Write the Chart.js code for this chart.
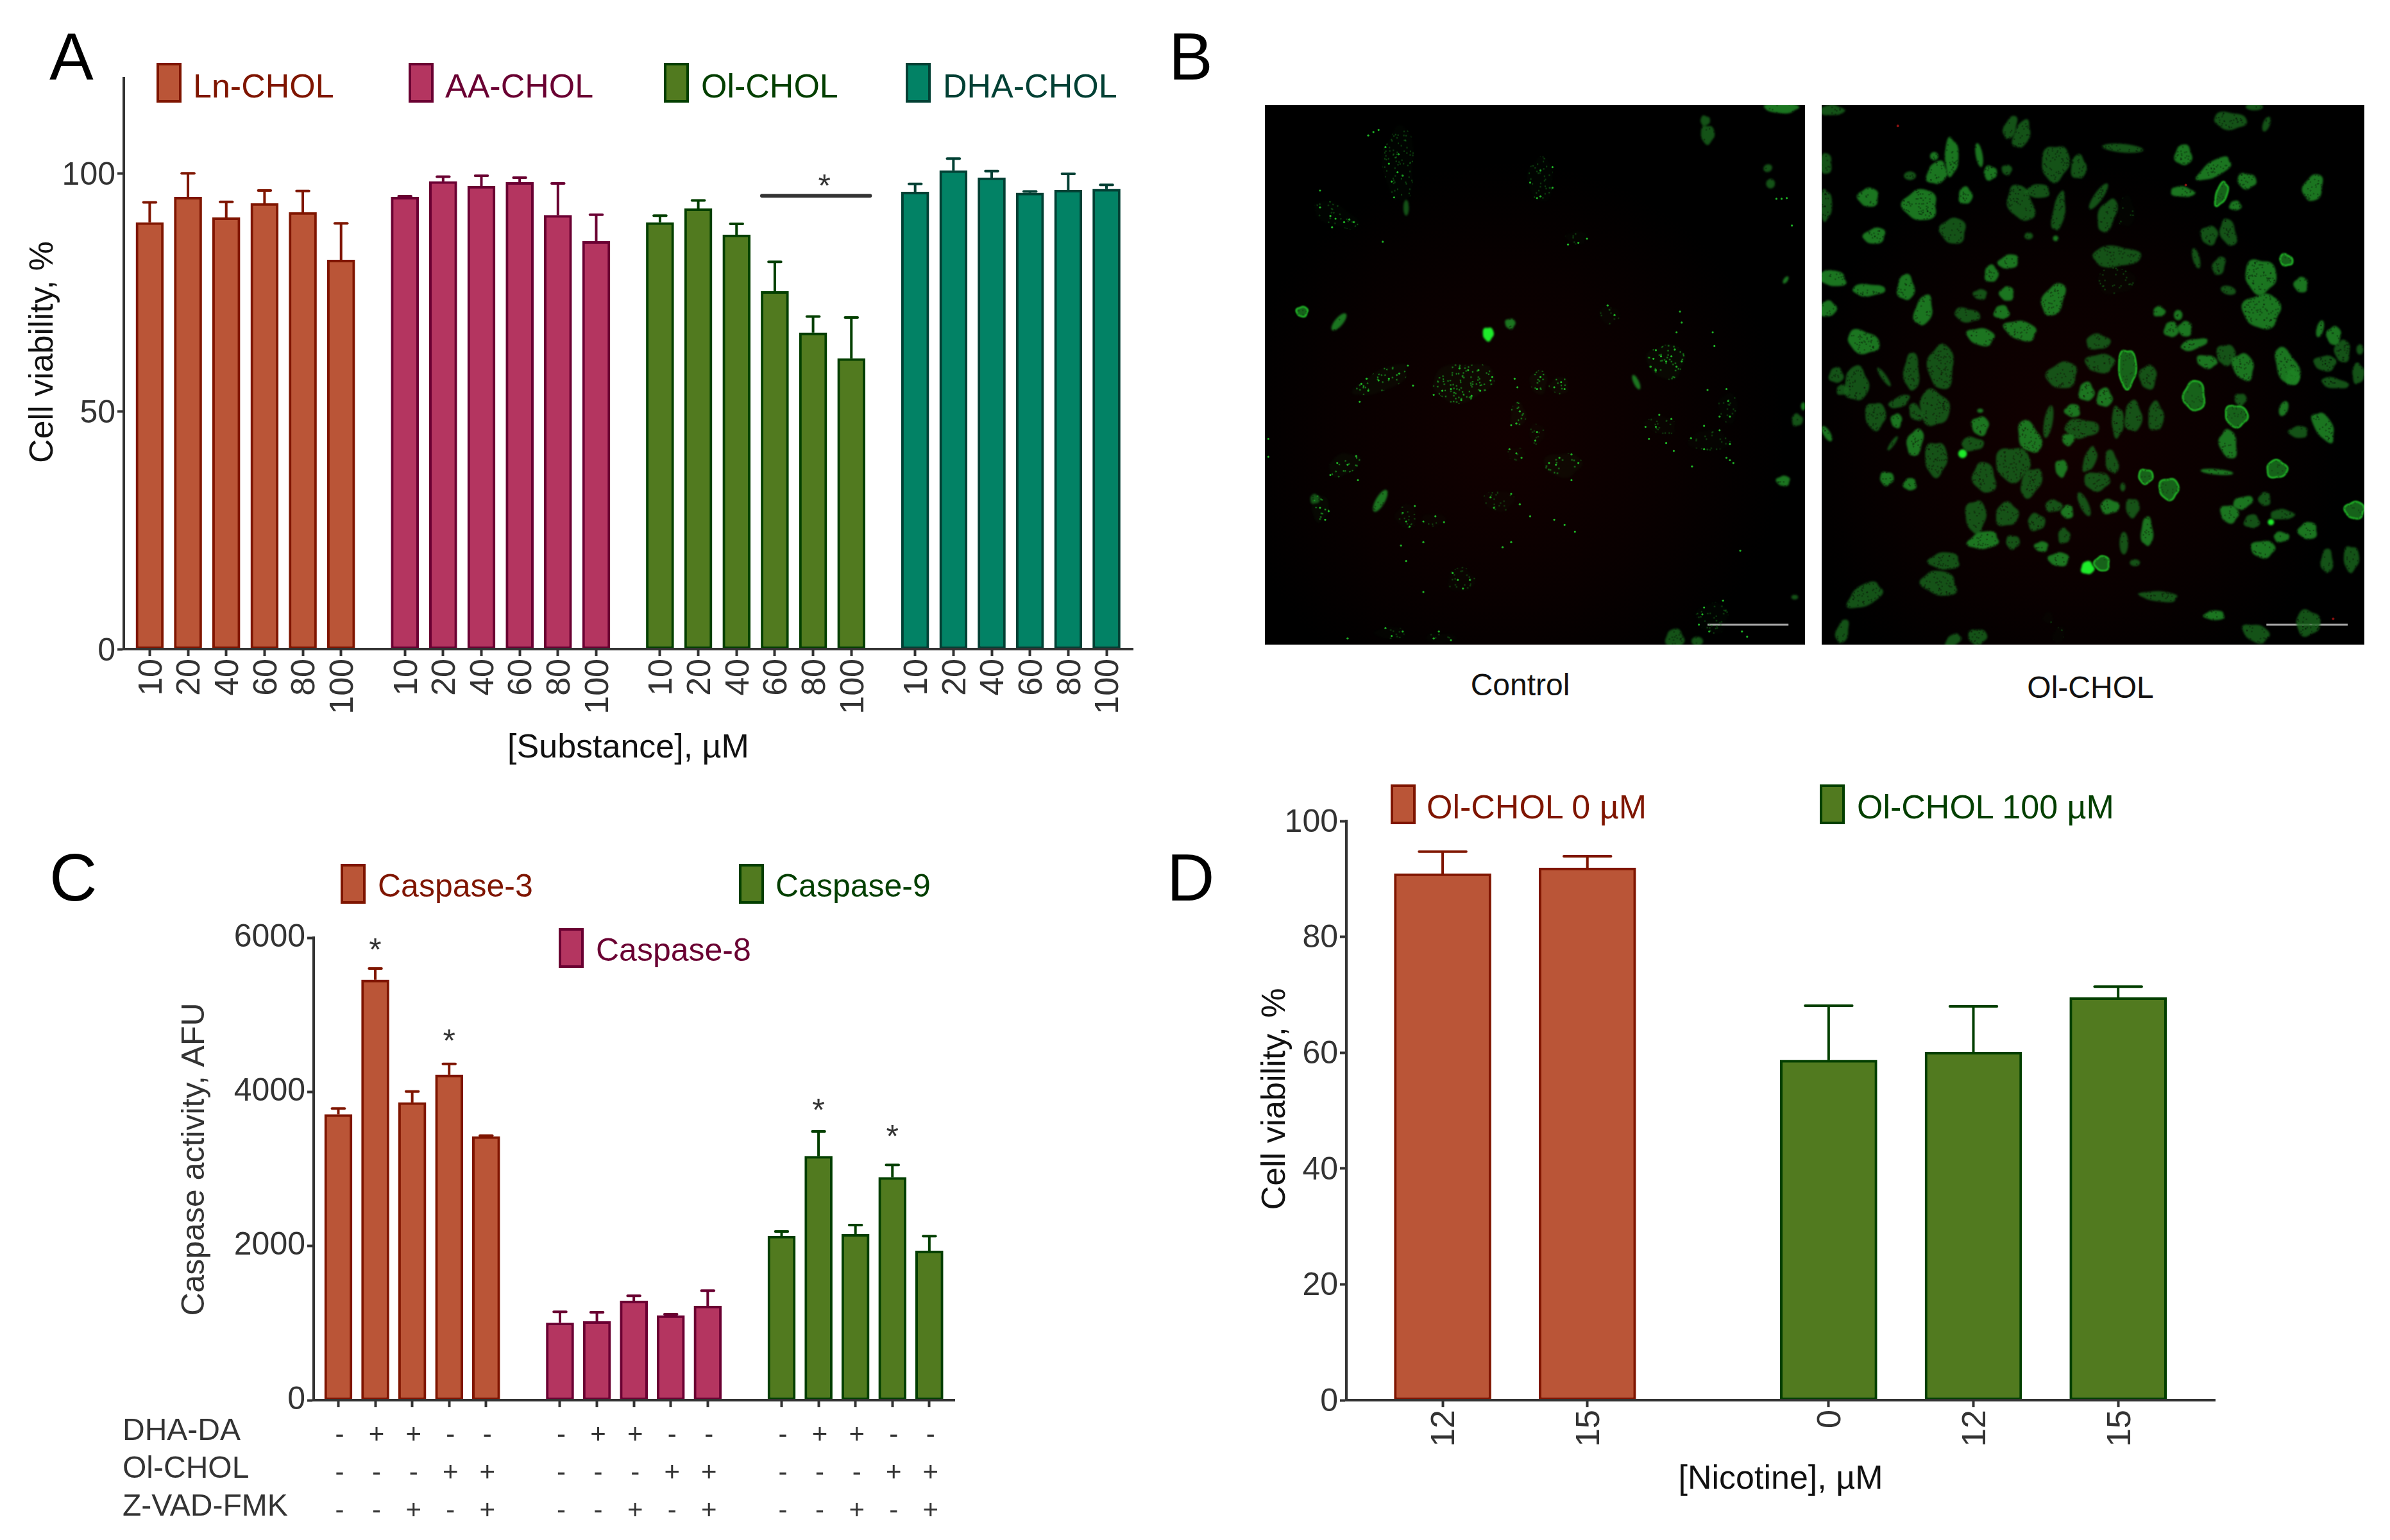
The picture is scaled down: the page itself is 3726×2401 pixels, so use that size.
<!DOCTYPE html>
<html><head><meta charset="utf-8">
<style>
html,body{margin:0;padding:0;background:#fff;width:3726px;height:2401px;overflow:hidden;font-family:"Liberation Sans",Arial,sans-serif}
canvas{position:absolute;display:block}
.t{position:absolute;white-space:nowrap;line-height:1;transform:translateY(-50%)}
.s{position:absolute;box-sizing:border-box;border:4px solid}
</style>
<script src="https://cdn.jsdelivr.net/npm/chart.js@4/dist/chart.umd.min.js"></script>
</head><body>
<script>
// ---------- Panel A ----------
const concentrations = ['10','20','40','60','80','100'];
const lnChol  = [89.7,95.0,90.7,93.7,91.8,81.8];
const lnCholE = [93.9,100.0,94.0,96.4,96.3,89.5];
const aaChol  = [95.0,98.3,97.3,98.1,91.2,85.7];
const aaCholE = [95.2,99.3,99.5,99.1,97.9,91.3];
const olChol  = [89.7,92.6,87.1,75.2,66.5,61.1];
const olCholE = [91.1,94.3,89.4,81.4,69.9,69.7];
const dhaChol  = [96.1,100.6,99.1,95.9,96.5,96.7];
const dhaCholE = [97.8,103.1,100.5,96.2,99.9,97.6];
// ---------- Panel C ----------
const casp3  = [3707,5453,3862,4220,3421];
const casp3E = [3785,5600,4005,4363,3433];
const casp8  = [1003,1021,1289,1098,1223];
const casp8E = [1146,1140,1354,1116,1420];
const casp9  = [2129,3165,2153,2891,1938];
const casp9E = [2188,3487,2272,3052,2129];
const dhaDa = ['-','+','+','-','-'];
const olRow = ['-','-','-','+','+'];
const zvad  = ['-','-','+','-','+'];
// ---------- Panel D ----------
const nicotine0 = ['12','15'];
const nicotine100 = ['0','12','15'];
const ol0   = [90.9,91.9];
const ol0E  = [94.7,93.9];
const ol100 = [58.7,60.1,69.5];
const ol100E= [68.1,68.0,71.4];
const controlBlobs = [[108,600,32,28,0,2],[215,630,24,62,40,1],[648,665,32,40,0,3],[712,635,30,30,0,1],[1500,8,100,30,0,1],[1278,45,28,30,0,0],[1285,85,40,55,0,0],[1078,805,16,46,-25,1],[1190,1550,54,54,0,0],[1255,1558,34,26,0,0],[335,1150,26,72,30,1],[1505,1092,40,30,0,1],[1545,915,32,36,0,0],[1563,875,14,24,0,1],[145,1145,28,28,0,0],[1538,1430,20,14,0,0],[1512,508,12,24,35,1],[410,298,16,46,0,0],[1468,228,26,28,0,0],[1460,183,26,22,-25,0],
[800,215,75,130,0,4],[390,170,90,220,0,4],[205,320,140,60,25,4],[1165,745,110,100,0,5],[340,800,170,60,-25,5],[575,805,180,110,-10,5],[795,805,50,70,0,5],[855,815,55,50,0,5],[735,900,45,70,0,5],[230,1045,95,60,-25,5],[865,1045,110,70,0,5],[160,1170,50,80,0,5],[410,1195,60,70,0,4],[490,1205,70,35,0,4],[680,1150,90,60,0,4],[1345,880,55,90,0,4],[1150,930,90,50,10,4],[1290,975,120,60,0,4],[570,1380,80,70,0,4],[365,1535,90,35,0,4],[510,1550,90,30,0,4],[1300,1490,90,90,0,4],[905,385,60,40,0,4],[1000,610,60,50,0,4],[790,955,45,60,0,4],[730,1015,50,40,0,4]];
const controlSpecks = [[315,78],[300,88],[330,72],[350,122],[388,143],[360,170],[385,195],[400,205],[368,222],[375,268],[160,248],[160,297],[190,322],[205,330],[230,340],[245,332],[258,340],[195,355],[342,397],[800,190],[770,225],[835,180],[800,265],[835,240],[790,270],[935,388],[880,405],[910,400],[1485,272],[1500,272],[1515,270],[1530,350],[995,582],[1015,610],[1205,600],[1210,632],[1195,660],[1300,660],[1305,700],[1135,712],[1128,737],[1190,710],[1165,745],[1135,770],[1195,760],[1150,730],[1180,730],[1120,760],[1210,745],[1285,828],[1345,860],[1350,905],[1320,905],[1340,825],[1145,900],[1180,912],[1105,935],[1115,970],[1135,935],[1165,982],[1187,1005],[1240,1050],[1237,968],[1275,1000],[1275,932],[1320,945],[1350,985],[1350,1032],[1340,1025],[1360,1040],[415,757],[390,780],[360,795],[330,800],[295,795],[280,810],[300,830],[275,862],[430,815],[490,842],[515,830],[540,825],[570,857],[600,845],[625,830],[655,800],[660,790],[590,770],[565,765],[620,770],[733,820],[725,795],[800,790],[790,825],[860,805],[840,820],[870,825],[740,890],[730,925],[715,930],[790,950],[785,975],[730,1012],[745,1025],[710,1000],[825,1040],[845,1045],[855,1025],[890,1015],[910,1040],[890,1090],[265,1020],[240,1045],[210,1040],[190,1075],[270,1090],[160,1170],[185,1180],[175,1205],[400,1185],[410,1210],[420,1225],[435,1165],[460,1210],[495,1195],[520,1212],[655,1140],[665,1170],[715,1130],[740,1160],[770,1195],[840,1205],[870,1220],[900,1240],[460,1270],[395,1280],[410,1325],[690,1285],[715,1270],[560,1380],[595,1380],[575,1405],[545,1360],[460,1415],[350,1520],[368,1543],[400,1530],[490,1550],[540,1555],[505,1530],[240,1550],[1275,1460],[1270,1480],[1290,1530],[1385,1530],[1400,1545],[1330,1440],[1260,1510],[10,970],[10,1022],[1380,1295]];
const olBlobs = [[30,15,70,30,0,0],[545,65,35,70,20,0],[578,85,45,85,20,0],[375,150,40,110,0,1],[325,148,24,24,0,1],[333,197,55,70,30,1],[455,145,20,70,-10,1],[487,197,38,42,0,1],[535,188,30,30,0,0],[675,168,80,105,10,0],[742,180,45,70,0,0],[870,125,120,25,5,0],[1045,145,50,60,0,1],[1180,45,95,50,5,0],[1250,5,50,20,0,0],[1285,55,20,45,20,0],[1135,185,110,45,-30,1],[1228,220,55,45,10,1],[1155,258,30,70,20,2],[1195,292,35,28,0,1],[1420,240,55,80,20,1],[1042,252,70,30,5,1],[255,205,35,25,0,0],[135,268,60,55,0,1],[415,263,40,50,0,1],[285,290,100,90,0,1],[380,365,75,75,20,0],[153,380,65,45,-15,1],[10,170,40,60,0,0],[12,290,35,90,0,0],[575,285,70,110,-25,0],[625,250,70,40,0,0],[685,310,35,115,10,0],[676,387,16,16,0,1],[598,380,25,20,0,0],[800,265,25,90,35,0],[825,320,50,100,20,0],[880,310,50,90,0,4],[1120,378,50,55,0,0],[1175,370,45,80,-15,0],[1082,445,20,60,-15,0],[1148,467,35,55,20,0],[1342,450,38,30,30,2],[1268,497,90,100,-10,1],[1385,522,40,45,0,1],[1175,538,45,25,15,0],[1272,598,110,100,0,1],[850,440,140,60,0,0],[850,510,110,80,0,4],[540,455,60,40,-15,1],[490,490,40,50,0,1],[30,503,85,45,10,1],[135,537,95,35,0,1],[243,530,50,75,0,1],[18,592,50,45,-30,1],[294,597,50,90,15,1],[535,548,42,42,0,1],[670,565,60,100,25,1],[420,610,75,40,10,0],[458,550,40,30,0,0],[520,602,45,40,0,1],[460,673,80,50,10,1],[575,655,95,55,15,1],[120,688,95,65,20,1],[975,600,35,30,0,1],[1030,610,25,30,0,1],[1010,652,42,45,0,1],[1050,650,40,45,0,1],[1075,695,80,30,-15,1],[1113,745,60,38,10,1],[1168,725,55,60,0,0],[1218,760,60,80,-20,1],[1345,760,60,115,-25,1],[1360,790,40,50,0,1],[1440,650,20,50,15,1],[1480,670,42,55,0,1],[1505,715,45,65,0,0],[1455,750,65,45,0,0],[1482,808,80,30,10,0],[1555,710,20,30,0,0],[1550,780,35,60,0,0],[1210,855,35,35,0,0],[1077,845,60,85,0,2],[1198,903,65,60,30,2],[1335,882,25,45,20,1],[1175,985,50,85,-10,1],[1450,935,50,95,-30,1],[1378,950,55,35,0,0],[1142,1066,95,16,5,1],[1315,1058,58,50,0,2],[1217,1155,60,35,-20,1],[1178,1188,55,50,40,1],[1243,1210,45,40,0,0],[1280,1145,35,40,0,0],[1330,1190,70,30,0,0],[1298,1212,18,18,0,3],[1328,1255,45,30,0,1],[1405,1237,55,50,0,1],[1275,1290,70,50,0,1],[1540,1177,55,48,0,2],[1460,1325,35,70,0,0],[1530,1318,45,75,0,0],[798,688,70,45,0,0],[883,765,50,110,0,2],[805,750,85,55,0,0],[695,785,90,75,-20,0],[943,790,50,70,0,0],[765,833,45,55,0,1],[817,850,45,55,0,1],[725,888,45,38,0,1],[655,920,25,95,10,0],[600,965,60,100,-25,1],[750,940,100,55,0,0],[712,972,35,35,0,1],[855,920,35,90,0,0],[900,905,50,90,0,0],[965,905,45,85,0,0],[260,775,45,110,0,0],[345,760,75,130,0,0],[42,785,42,45,0,0],[100,810,70,100,0,0],[60,828,35,30,0,0],[180,790,15,65,-35,0],[225,862,65,30,-25,0],[325,880,85,105,-15,0],[272,893,35,55,-30,0],[155,903,60,80,0,0],[216,917,32,42,0,1],[458,932,50,55,0,1],[458,888,18,12,0,1],[270,980,45,80,15,1],[330,1028,65,100,0,0],[205,983,12,50,35,0],[15,955,20,50,-30,1],[435,985,65,40,0,0],[407,1013,25,25,0,3],[188,1085,40,40,0,1],[255,1102,38,36,0,1],[552,1043,100,100,0,0],[470,1083,65,90,-15,0],[605,1097,55,90,25,0],[692,1055,35,50,0,1],[775,1030,35,75,20,0],[838,1037,35,70,-15,0],[795,1093,75,55,0,0],[936,1079,40,40,0,2],[1003,1115,55,60,0,2],[870,1110,15,25,0,0],[445,1195,60,95,0,0],[535,1190,65,70,30,0],[620,1212,50,50,0,0],[670,1165,50,35,0,0],[710,1182,35,40,0,1],[758,1160,25,75,-25,0],[832,1167,55,42,0,1],[898,1170,40,55,0,0],[940,1240,35,85,0,1],[468,1265,90,50,-10,1],[552,1270,40,40,0,0],[635,1283,40,30,0,1],[700,1252,35,45,0,0],[685,1320,60,40,0,1],[873,1273,25,65,0,0],[768,1345,38,38,0,3],[810,1332,42,42,0,2],[905,1330,30,20,0,0],[355,1325,90,50,0,0],[340,1390,105,70,15,0],[125,1425,110,60,-30,0],[975,1428,110,30,5,0],[1135,1483,60,28,0,1],[1255,1535,80,50,20,0],[1405,1505,70,75,0,0],[60,1530,35,70,15,0],[380,1555,50,30,-30,0],[450,1545,55,45,0,0],[655,1490,30,35,0,4],[685,1540,30,50,20,4]];
const olRedSpecks = [[220,60],[1052,232],[1478,1493]];
const controlScaleBar = [[1285,1510],[1520,1510]];
const olScaleBar = [[1285,1510],[1520,1510]];

// ---------- styling ----------
const FONT = '"Liberation Sans", Arial, sans-serif';
const AXIS = '#333333';
const C = {
  red:{fill:'#BA5537',line:'#7F1500'}, plum:{fill:'#B43560',line:'#6A0032'},
  green:{fill:'#517A1F',line:'#033F00'}, teal:{fill:'#028265',line:'#024034'}
};

const errorBars = { id:'errorBars', afterDatasetsDraw(chart){
  const ctx = chart.ctx, y = chart.scales.y;
  chart.data.datasets.forEach((ds,i)=>{
    if(!ds.err) return;
    const cap = ds.maxBarThickness/2 + 2;
    chart.getDatasetMeta(i).data.forEach((bar,k)=>{
      const t = y.getPixelForValue(ds.err[k]);
      ctx.save(); ctx.strokeStyle = ds.borderColor; ctx.lineWidth = 4;
      ctx.beginPath(); ctx.moveTo(bar.x,bar.y); ctx.lineTo(bar.x,t); ctx.stroke();
      ctx.lineCap='round'; ctx.beginPath(); ctx.moveTo(bar.x-cap/2+2,t); ctx.lineTo(bar.x+cap/2-2,t); ctx.stroke();
      ctx.restore();
    });
  });
}};
const marks = { id:'marks', afterDatasetsDraw(chart,_a,opts){
  const ctx = chart.ctx, {x,y} = chart.scales;
  ctx.save(); ctx.fillStyle = AXIS; ctx.strokeStyle = AXIS;
  (opts.lines||[]).forEach(l=>{ ctx.lineWidth=6; ctx.lineCap='round';
    ctx.beginPath(); ctx.moveTo(x.getPixelForValue(l[0]),y.getPixelForValue(l[2])); ctx.lineTo(x.getPixelForValue(l[1]),y.getPixelForValue(l[2])); ctx.stroke(); });
  ctx.font = '50px '+FONT; ctx.textAlign='center'; ctx.textBaseline='alphabetic';
  (opts.stars||[]).forEach(s=>ctx.fillText('*',x.getPixelForValue(s[0]),y.getPixelForValue(s[1])+26));
  ctx.restore();
}};

function place(id,l,t,w,h){ const c=document.createElement('canvas'); c.id=id; c.width=w; c.height=h;
  c.style.left=l+'px'; c.style.top=t+'px'; c.style.width=w+'px'; c.style.height=h+'px'; document.body.appendChild(c); return c; }
function text(str,x,y,size,color,center){ const s=document.createElement('div'); s.className='t'; s.textContent=str;
  s.style.cssText+=`left:${x}px;top:${y}px;font-size:${size}px;color:${color};`+(center?'transform:translate(-50%,-50%);':''); document.body.appendChild(s); }
function legend(str,x,y,col,tx,ty,size){ const b=document.createElement('div'); b.className='s';
  b.style.cssText=`left:${x}px;top:${y}px;width:39px;height:62px;background:${col.fill};border-color:${col.line}`; document.body.appendChild(b);
  text(str,tx,ty,size,col.line); }
function bars(points,err,col,thick){ return {data:points,err,backgroundColor:col.fill,borderColor:col.line,borderWidth:4,borderSkipped:false,
  grouped:false,barPercentage:1,categoryPercentage:1,maxBarThickness:thick}; }
function tweakY(scale,titleDy,labelDy){ if(scale._wrapped) return; scale._wrapped=true; const o=scale.drawTitle;
  scale.drawTitle=function(){ const c=this.ctx; c.save(); c.translate(0,titleDy); o.call(this); c.restore(); };
  const li=scale._computeLabelItems;
  scale._computeLabelItems=function(ca){ const items=li.call(this,ca); items.forEach(it=>{it.options.translation[1]+=labelDy;}); return items; }; }
function tweakX(scale,labelDx){ if(scale._wrapped) return; scale._wrapped=true; const li=scale._computeLabelItems;
  scale._computeLabelItems=function(ca){ const items=li.call(this,ca); items.forEach(it=>{it.options.translation[0]+=labelDx;}); return items; }; }

function barChart(cv,cfg){
  return new Chart(cv,{type:'bar',plugins:[errorBars,marks],
    data:{datasets:cfg.datasets},
    options:{responsive:false,animation:false,devicePixelRatio:1,
      layout:{autoPadding:false,padding:{top:cfg.padTop,right:cfg.padRight,left:0,bottom:0}},
      plugins:{legend:{display:false},tooltip:{enabled:false},marks:{stars:cfg.stars||[],lines:cfg.lines||[]}},
      scales:{
        x:{type:'linear',min:cfg.xMin,max:cfg.xMax,offset:false,
          border:{color:AXIS,width:4,z:1},
          grid:{display:true,offset:false,drawOnChartArea:false,drawTicks:true,tickLength:cfg.tickLen||11,tickWidth:4,tickColor:AXIS},
          afterBuildTicks:a=>{a.ticks=cfg.tickPos.map(v=>({value:v}));},
          afterFit:a=>{a.height=cfg.xHeight; tweakX(a,cfg.xLabelDx);},
          ticks:{autoSkip:false,includeBounds:false,maxRotation:cfg.rot,minRotation:cfg.rot,padding:cfg.tickPad,color:AXIS,
            font:{family:FONT,size:cfg.xFont,lineHeight:cfg.xLH||1.2},callback:(v,i)=>cfg.tickLabels[i]},
          title:cfg.xTitle?{display:true,text:cfg.xTitle,color:'#111',font:{family:FONT,size:cfg.titleFont,lineHeight:1.2},padding:{top:0,bottom:cfg.xTitlePad}}:{display:false}
        },
        y:{min:0,max:cfg.yMax,
          border:{color:AXIS,width:4,z:1},
          grid:{display:true,drawOnChartArea:false,drawTicks:true,tickLength:10,tickWidth:4,tickColor:AXIS},
          afterFit:a=>{a.width=cfg.yWidth; tweakY(a,cfg.yTitleShift,cfg.yLabelShift);},
          ticks:{stepSize:cfg.yStep,includeBounds:false,padding:3,color:AXIS,font:{family:FONT,size:cfg.yFont},callback:v=>String(v)},
          title:{display:true,text:cfg.yTitle,color:cfg.yTitleColor||'#111',font:{family:FONT,size:cfg.titleFont,lineHeight:1.2},padding:{top:cfg.yTitlePad,bottom:0}}
        }
      }
    }});
}
function slotPositions(groups,gap){ const pos=[]; let p=0; groups.forEach(g=>{ g.forEach(()=>{pos.push(p);p+=1;}); p+=gap-1; }); return pos; }
function xy(vals,pos){ return vals.map((v,i)=>({x:pos[i],y:v})); }

// ---------- A ----------
(function(){
  const groups=[lnChol,aaChol,olChol,dhaChol];
  const pos=slotPositions(groups,5/3);
  const g=k=>pos.slice(k*6,k*6+6);
  barChart(place('a',0,0,1810,1220),{
    datasets:[bars(xy(lnChol,g(0)),lnCholE,C.red,43),bars(xy(aaChol,g(1)),aaCholE,C.plum,43),bars(xy(olChol,g(2)),olCholE,C.green,43),bars(xy(dhaChol,g(3)),dhaCholE,C.teal,43)],
    padTop:122,padRight:44,xMin:-0.677,xMax:25.687,tickPos:pos,tickLabels:[].concat(concentrations,concentrations,concentrations,concentrations),
    rot:90,tickPad:4,xFont:52,xLabelDx:4,xHeight:208,xTitle:'[Substance], \u00B5M',xTitlePad:22,titleFont:52,
    yMax:120,yStep:50,yWidth:193,yFont:50,yTitle:'Cell viability, %',yTitlePad:36,yTitleShift:-18,yLabelShift:4,
    lines:[[16.0,18.82,95.3]],stars:[[17.63,98.6]]
  });
  legend('Ln-CHOL',244,98,C.red,301,134,52);
  legend('AA-CHOL',637,98,C.plum,694,134,52);
  legend('Ol-CHOL',1035,98,C.green,1093,134,52);
  legend('DHA-CHOL',1412,98,C.teal,1470,134,52);
})();
// ---------- C ----------
(function(){
  const groups=[casp3,casp8,casp9];
  const pos=slotPositions(groups,2);
  const g=k=>pos.slice(k*5,k*5+5);
  const rows=[];
  for(let k=0;k<3;k++) for(let i=0;i<5;i++) rows.push([dhaDa[i],olRow[i],zvad[i]]);
  barChart(place('c',0,1400,1500,1001),{
    datasets:[bars(xy(casp3,g(0)),casp3E,C.red,43),bars(xy(casp8,g(1)),casp8E,C.plum,43),bars(xy(casp9,g(2)),casp9E,C.green,43)],
    padTop:62,padRight:12,xMin:-0.668,xMax:16.68,tickPos:pos,tickLabels:rows,
    rot:0,tickPad:15,xFont:42,xLabelDx:2,xLH:1.405,xHeight:218,titleFont:50,
    yMax:6000,yStep:2000,yWidth:489,yFont:50,yTitle:'Caspase activity, AFU',yTitlePad:274,yTitleShift:-15,yLabelShift:0,yTitleColor:AXIS,
    stars:[[1,5920],[3,4733],[13,3833],[15,3492]]
  });
  legend('Caspase-3',531,1347,C.red,589,1381,50);
  legend('Caspase-9',1152,1347,C.green,1209,1381,50);
  legend('Caspase-8',871,1447,C.plum,929,1481,50);
  text('DHA-DA',191,2229,48,AXIS);
  text('Ol-CHOL',191,2288,48,AXIS);
  text('Z-VAD-FMK',191,2347,48,AXIS);
})();
// ---------- D ----------
(function(){
  const pos=slotPositions([nicotine0,nicotine100],5/3);
  barChart(place('d',1900,1230,1570,1171),{
    datasets:[bars(xy(ol0,pos.slice(0,2)),ol0E,C.red,151),bars(xy(ol100,pos.slice(2)),ol100E,C.green,151)],
    padTop:50,padRight:17,xMin:-0.665,xMax:5.335,tickPos:pos,tickLabels:[].concat(nicotine0,nicotine100),
    rot:90,tickPad:4,xFont:52,xLabelDx:4,xHeight:218,xTitle:'[Nicotine], \u00B5M',xTitlePad:63,titleFont:52,
    yMax:100,yStep:20,yWidth:199,yFont:50,yTitle:'Cell viability, %',yTitlePad:57,yTitleShift:-18,yLabelShift:3
  });
  legend('Ol-CHOL 0 \u00B5M',2168,1223,C.red,2224,1258,52);
  legend('Ol-CHOL 100 \u00B5M',2837,1223,C.green,2895,1258,52);
})();
// ---------- B ----------
const tileCache={};
const LEVELS=[
 {rgb:'24,100,28',a:.82,holes:.32},
 {rgb:'30,130,36',a:.9,holes:.3},
 {rgb:'26,115,30',a:.85,stroke:'#28dc30',holes:.2},
 {rgb:'30,235,42',a:1,holes:0},
 {rgb:'26,120,30',a:.03,dots:.55},
 {rgb:'30,165,36',a:.05,dots:.8}
];
const noise=v=>{const s=Math.sin(v*12.9898)*43758.5453; return s-Math.floor(s);};
function tile(w,h,level,scale){
  const key=[w,h,level,scale].join(); if(tileCache[key]) return tileCache[key];
  const W=w*scale,H=h*scale,p=6; const c=document.createElement('canvas'); c.width=Math.ceil(W+2*p); c.height=Math.ceil(H+2*p);
  const x=c.getContext('2d'), L=LEVELS[level], ph=(w*7+h*13)%6.28, cx=c.width/2, cy=c.height/2;
  const rough=Math.min(W,H)>14;
  x.beginPath();
  for(let i=0;i<=48;i++){ const t=i/48*Math.PI*2, r=1+(rough?.08*Math.sin(3*t+ph)+.05*Math.sin(5*t+2*ph+1):0);
    x[i?'lineTo':'moveTo'](cx+Math.cos(t)*W/2*r,cy+Math.sin(t)*H/2*r); }
  x.closePath();
  x.filter='blur(1.6px)';
  x.fillStyle=`rgba(${L.rgb},${L.a})`; x.fill();
  if(L.stroke){x.filter='blur(.8px)';x.strokeStyle=L.stroke;x.lineWidth=2.2;x.stroke();}
  const n=Math.round(W*H/(L.dots?42:22));
  if(L.dots){ x.filter='blur(.4px)'; x.save(); x.clip(); x.fillStyle=`rgba(${L.rgb},${L.dots})`;
    for(let i=0;i<n;i++) x.fillRect(noise(i+ph)*c.width,noise(i*1.7+ph+3)*c.height,2.2,2.2);
    x.restore();
  } else if(L.holes){ x.filter='blur(.6px)'; x.globalCompositeOperation='destination-out'; x.fillStyle=`rgba(0,0,0,${L.holes})`;
    for(let i=0;i<n;i++) x.fillRect(noise(i+ph)*c.width,noise(i*1.7+ph+3)*c.height,2.4,2.4);
    x.globalCompositeOperation='source-over';
  }
  return tileCache[key]=c;
}
function micro(id,l,w,blobs,specks,bar,red){
  const cv=place(id,l,164,w,841);
  cv.style.background='radial-gradient(circle at 45% 62%, #120000 0%, #090000 35%, #000 62%)';
  const scale=w/1568;
  const ds=[{type:'scatter',data:blobs.map(b=>({x:b[0],y:b[1],w:b[2],h:b[3],a:b[4],l:b[5]})),
      pointStyle:c=>tile(c.raw.w,c.raw.h,c.raw.l,scale),pointRotation:c=>c.raw.a,pointRadius:60,showLine:false},
    {type:'scatter',data:specks.map(s=>({x:s[0],y:s[1]})),pointRadius:1.6,borderWidth:0,pointBackgroundColor:'#1fb826',showLine:false},
    {type:'scatter',data:red.map(s=>({x:s[0],y:s[1]})),pointRadius:2,borderWidth:0,pointBackgroundColor:'#8a1010',showLine:false},
    {type:'scatter',data:bar.map(s=>({x:s[0],y:s[1]})),pointRadius:0,showLine:true,borderColor:'#a8a8a8',borderWidth:3}];
  new Chart(cv,{type:'scatter',data:{datasets:ds},options:{responsive:false,animation:false,devicePixelRatio:1,layout:{autoPadding:false,padding:0},
    plugins:{legend:{display:false},tooltip:{enabled:false}},
    scales:{x:{type:'linear',min:0,max:1568,display:false},y:{type:'linear',min:0,max:1568,reverse:true,display:false}}}});
}
micro('b1',1972,842,controlBlobs,controlSpecks,controlScaleBar,[]);
micro('b2',2840,846,olBlobs,[],olScaleBar,olRedSpecks);
text('Control',2370,1068,48,'#111',true);
text('Ol-CHOL',3259,1072,48,'#111',true);
// ---------- panel letters ----------
text('A',77,88,103,'#000');
text('B',1822,88,103,'#000');
text('C',77,1368,103,'#000');
text('D',1819,1368,103,'#000');
</script>
</body></html>
